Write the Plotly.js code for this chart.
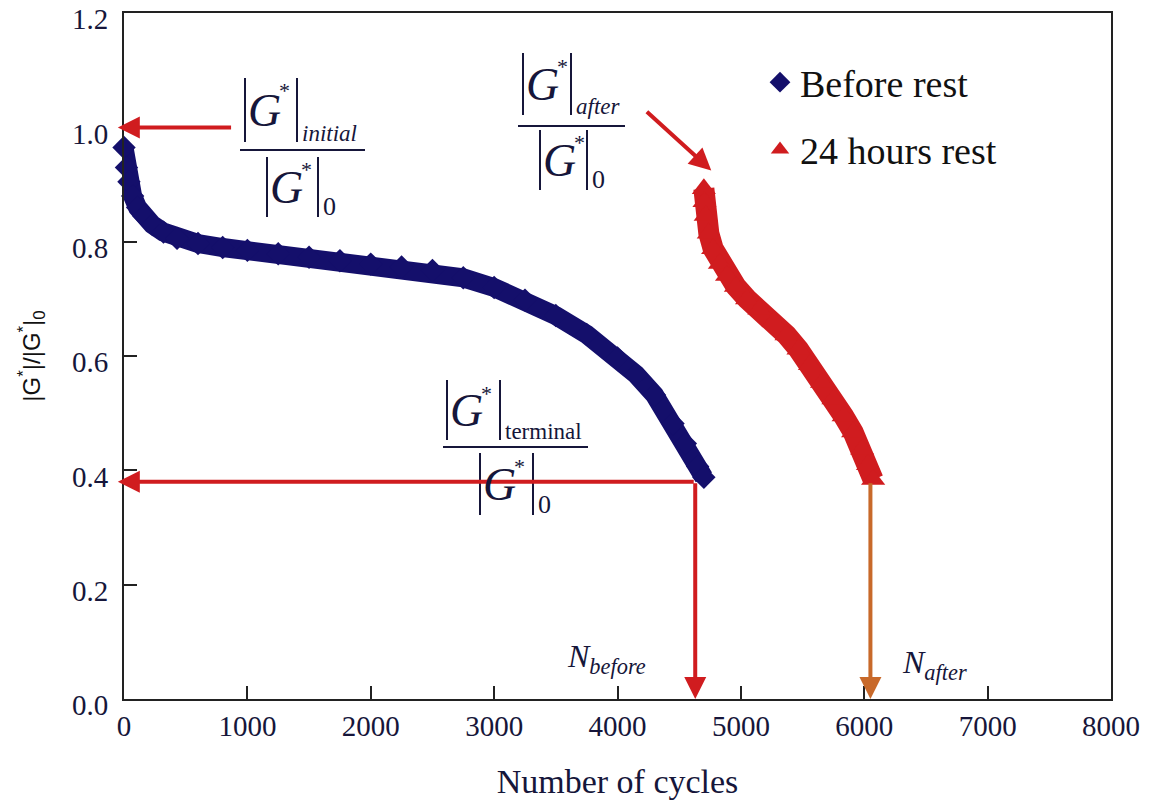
<!DOCTYPE html>
<html>
<head>
<meta charset="utf-8">
<script src="https://cdn.plot.ly/plotly-3.0.1.min.js"></script>
<style>
  html, body { margin: 0; padding: 0; background: #fff; }
  #chart { width: 1149px; height: 800px; }
</style>
</head>
<body>
<div id="chart"></div>
<script>
// Normalised complex modulus |G*|/|G*|0 against load cycles
const cyclesBefore = [0, 20, 40, 70, 110, 160, 230, 320, 430, 600, 800, 1000, 1250, 1500, 1750, 2000,
  2250, 2500, 2750, 3000, 3250, 3500, 3750, 4000, 4150, 4300, 4450, 4550, 4650, 4700];
const ratioBefore = [0.965, 0.93, 0.905, 0.88, 0.86, 0.845, 0.83, 0.817, 0.806, 0.797, 0.79, 0.785, 0.779,
  0.773, 0.767, 0.761, 0.756, 0.75, 0.737, 0.72, 0.698, 0.671, 0.638, 0.597, 0.568, 0.532, 0.482, 0.447,
  0.407, 0.388];

const cyclesAfter = [4700, 4705, 4715, 4740, 4775, 4830, 4888, 4960, 5050, 5150, 5265, 5370, 5467, 5560,
  5658, 5750, 5833, 5910, 5983, 6030, 6072];
const ratioAfter = [0.893, 0.87, 0.846, 0.815, 0.788, 0.762, 0.741, 0.722, 0.70, 0.682, 0.66, 0.637, 0.612,
  0.585, 0.554, 0.525, 0.495, 0.467, 0.437, 0.41, 0.384];

const seriesNames = ['Before rest', '24 hours rest'];
const nBefore = 4630;
const nAfter = 6050;
const ratioInitial = 1.0;
const ratioTerminal = 0.38;

const xTickVals = [0, 1000, 2000, 3000, 4000, 5000, 6000, 7000, 8000];
const yTickVals = [0.0, 0.2, 0.4, 0.6, 0.8, 1.0, 1.2];

const NAVY = '#140f6b';
const RED = '#d01c1f';
const ORANGE = '#c8692a';
const INK = '#16163a';
const SERIF = 'Liberation Serif, Times New Roman, serif';

// page geometry, used to place the formula labels in paper units
const W = 1149, H = 800;
const M = { l: 124, r: 38, t: 13, b: 101 };
const PW = W - M.l - M.r, PH = H - M.t - M.b;
const px = x => (x - M.l) / PW;
const py = y => (H - M.b - y) / PH;

const shapes = [];
const annotations = [];

// arrows that point at the characteristic values
function arrow(x, y, ax, ay, color) {
  annotations.push({
    x: x, y: y, ax: ax, ay: ay, xref: 'x', yref: 'y', axref: 'x', ayref: 'y',
    text: '', showarrow: true, arrowhead: 2, arrowsize: 1.1, arrowwidth: 4,
    arrowcolor: color, standoff: 0, startstandoff: 0
  });
}
arrow(-50, ratioInitial, 880, ratioInitial, RED);
arrow(-50, ratioTerminal, nBefore, ratioTerminal, RED);
arrow(nBefore, 0, nBefore, ratioTerminal, RED);
arrow(nAfter, 0, nAfter, ratioTerminal, ORANGE);
arrow(4760, 0.925, 4226, 1.03, RED);

function label(text, x, y, size, xanchor, yanchor) {
  annotations.push({
    text: text, x: px(x), y: py(y), xref: 'paper', yref: 'paper', showarrow: false,
    xanchor: xanchor, yanchor: yanchor, borderpad: 0,
    font: { family: SERIF, size: size, color: INK }
  });
}
function bar(x0, y0, x1, y1) {
  shapes.push({
    type: 'line', xref: 'paper', yref: 'paper',
    x0: px(x0), x1: px(x1), y0: py(y0), y1: py(y1),
    line: { color: INK, width: 2 }
  });
}

// |G*|_sub over |G*|_0
function fraction(f) {
  [[f.num, f.sub, 23], [f.den, '0', 26]].forEach(([p, sub, size]) => {
    bar(p.l, p.t, p.l, p.b);
    bar(p.r, p.t, p.r, p.b);
    label('<i>G</i>', p.l + 19, (p.t + p.b) / 2, 46, 'center', 'middle');
    label('*', p.l + 39, p.t + 13, 22, 'center', 'middle');
    label(sub, p.r + 4, p.b + 5, size, 'left', 'bottom');
  });
  bar(f.lineL, f.lineY, f.lineR, f.lineY);
}

fraction({ num: { l: 245, r: 297, t: 78, b: 142 }, den: { l: 267, r: 318, t: 157, b: 217 },
  lineL: 240, lineR: 365, lineY: 150, sub: '<i>initial</i>' });
fraction({ num: { l: 523, r: 571, t: 53, b: 115 }, den: { l: 540, r: 587, t: 130, b: 190 },
  lineL: 518, lineR: 625, lineY: 126, sub: '<i>after</i>' });
fraction({ num: { l: 447, r: 500, t: 380, b: 440 }, den: { l: 480, r: 533, t: 453, b: 515 },
  lineL: 443, lineR: 588, lineY: 447, sub: 'terminal' });

label('<i>N</i><sub><i>before</i></sub>', 566, 680, 32, 'left', 'bottom');
label('<i>N</i><sub><i>after</i></sub>', 901, 686, 32, 'left', 'bottom');

const traces = [
  { x: cyclesBefore, y: ratioBefore, type: 'scatter', mode: 'lines', showlegend: false,
    line: { color: NAVY, width: 19 }, cliponaxis: false, hoverinfo: 'skip' },
  { x: cyclesBefore, y: ratioBefore, type: 'scatter', mode: 'markers', name: seriesNames[0],
    legendgroup: 'a', marker: { symbol: 'diamond', size: 18, color: NAVY }, cliponaxis: false },
  { x: cyclesAfter, y: ratioAfter, type: 'scatter', mode: 'lines', showlegend: false,
    line: { color: RED, width: 21 }, cliponaxis: false, hoverinfo: 'skip' },
  { x: cyclesAfter, y: ratioAfter, type: 'scatter', mode: 'markers', name: seriesNames[1],
    legendgroup: 'b', marker: { symbol: 'triangle-up', size: 21, color: RED }, cliponaxis: false }
];

const axisBase = {
  showgrid: false, zeroline: false, showline: true, linewidth: 2, linecolor: '#222',
  mirror: true, ticks: 'inside', ticklen: 13, tickwidth: 2, tickcolor: '#222',
  tickfont: { family: SERIF, size: 29, color: INK }, fixedrange: true,
  ticklabeloverflow: 'allow'
};

const layout = {
  width: W, height: H, margin: M,
  paper_bgcolor: '#fff', plot_bgcolor: '#fff',
  showlegend: true,
  legend: {
    x: px(760), y: py(51), xanchor: 'left', yanchor: 'top',
    font: { family: SERIF, size: 38, color: '#111' },
    bgcolor: 'rgba(0,0,0,0)', traceorder: 'grouped', tracegroupgap: 15
  },
  xaxis: Object.assign({}, axisBase, {
    range: [0, 8000], tickvals: xTickVals, ticktext: xTickVals.map(String),
    title: { text: 'Number of cycles', font: { family: SERIF, size: 34, color: INK }, standoff: 29 }
  }),
  yaxis: Object.assign({}, axisBase, {
    range: [0, 1.2004], tickvals: yTickVals, ticktext: yTickVals.map(v => v.toFixed(1)),
    ticklabelshift: 6, ticklabelstandoff: 8,
    title: { text: '|G<sup>*</sup>|/|G<sup>*</sup>|<sub>0</sub>', standoff: 25,
      font: { family: 'Liberation Sans, Arial, sans-serif', size: 24, color: '#111' } }
  }),
  shapes: shapes,
  annotations: annotations
};

Plotly.newPlot('chart', traces, layout, { displayModeBar: false, staticPlot: true });
</script>
</body>
</html>
